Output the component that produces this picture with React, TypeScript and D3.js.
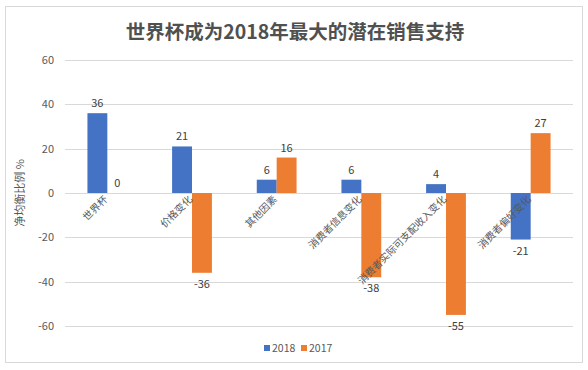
import * as d3 from 'd3';
import { useEffect, useRef } from 'react';

// chart data
const categories = ['世界杯', '价格变化', '其他因素', '消费者信息变化', '消费者实际可支配收入变化', '消费者偏好变化'];
const seriesNames = ['2018', '2017'];
const values2018 = [36, 21, 6, 6, 4, -21];
const values2017 = [0, -36, 16, -38, -55, 27];
const yTicks = [-60, -40, -20, 0, 20, 40, 60];
const colors = ['#4472C4', '#ED7D31'];

const FONT = '"Noto Sans CJK SC", "Noto Sans", sans-serif';

export default function App() {
  const svgRef = useRef<SVGSVGElement | null>(null);

  useEffect(() => {
    if (!svgRef.current) return;
    const width = 588;
    const height = 370;
    const margin = { top: 60, right: 15, bottom: 44, left: 65 };

    const svg = d3.select(svgRef.current);
    svg.selectAll('*').remove();

    svg.append('rect')
      .attr('x', 0).attr('y', 0)
      .attr('width', width).attr('height', height)
      .attr('fill', '#fff');

    // outer border
    svg.append('rect')
      .attr('x', 5.5).attr('y', 6.5)
      .attr('width', 577).attr('height', 356)
      .attr('fill', 'none')
      .attr('stroke', '#d9d9d9');

    const x0 = d3.scaleBand<string>()
      .domain(categories)
      .range([margin.left, 573])
      .paddingInner(0.53)
      .paddingOuter(0.265);

    const x1 = d3.scaleBand<string>()
      .domain(seriesNames)
      .range([0, x0.bandwidth()]);

    const y = d3.scaleLinear()
      .domain([-60, 60])
      .range([326, 60]);

    // title
    svg.append('text')
      .attr('x', 295).attr('y', 39)
      .attr('text-anchor', 'middle')
      .attr('font-family', FONT)
      .attr('font-weight', 'bold')
      .attr('font-size', 19.5)
      .attr('fill', '#505050')
      .text('世界杯成为2018年最大的潜在销售支持');

    // gridlines
    svg.append('g')
      .selectAll('line')
      .data(yTicks)
      .join('line')
      .attr('x1', margin.left).attr('x2', 573)
      .attr('y1', d => Math.round(y(d)) + 0.5)
      .attr('y2', d => Math.round(y(d)) + 0.5)
      .attr('stroke', '#d9d9d9');

    // y axis labels
    const yAxis = d3.axisLeft(y).tickValues(yTicks).tickSize(0).tickPadding(11)
      .tickFormat(d => String(d));
    svg.append('g')
      .attr('transform', `translate(${margin.left},0)`)
      .call(yAxis)
      .call(g => g.select('.domain').remove())
      .call(g => g.selectAll('text')
        .attr('font-family', FONT)
        .attr('font-size', 11)
        .attr('fill', '#595959'));

    // y axis title
    svg.append('text')
      .attr('transform', `translate(24,${y(0)}) rotate(-90)`)
      .attr('text-anchor', 'middle')
      .attr('font-family', FONT)
      .attr('font-size', 11)
      .attr('fill', '#595959')
      .text('净均衡比例  %');

    const rows = categories.map((c, i) => ({ c, vals: [values2018[i], values2017[i]] }));

    // bars
    const groups = svg.append('g')
      .selectAll('g')
      .data(rows)
      .join('g')
      .attr('transform', d => `translate(${x0(d.c)},0)`);

    groups.selectAll('rect')
      .data(d => d.vals.map((v, j) => ({ v, s: seriesNames[j], j })))
      .join('rect')
      .attr('x', d => x1(d.s)!)
      .attr('width', x1.bandwidth())
      .attr('y', d => y(Math.max(0, d.v)))
      .attr('height', d => Math.abs(y(d.v) - y(0)))
      .attr('fill', d => colors[d.j]);

    // data labels
    groups.selectAll('text.val')
      .data(d => d.vals.map((v, j) => ({ v, s: seriesNames[j] })))
      .join('text')
      .attr('class', 'val')
      .attr('x', d => x1(d.s)! + x1.bandwidth() / 2)
      .attr('y', d => d.v >= 0 ? y(d.v) - 6 : y(d.v) + 15)
      .attr('text-anchor', 'middle')
      .attr('font-family', FONT)
      .attr('font-size', 11)
      .attr('fill', '#404040')
      .text(d => d.v);

    // category labels, rotated
    svg.append('g')
      .selectAll('text')
      .data(categories)
      .join('text')
      .attr('transform', d => `translate(${x0(d)! + x0.bandwidth() / 2 + 1},${y(0) + 7}) rotate(-45)`)
      .attr('text-anchor', 'end')
      .attr('font-family', FONT)
      .attr('font-size', 10)
      .attr('fill', '#595959')
      .text(d => d);

    // legend
    const legend = svg.append('g')
      .attr('transform', 'translate(264,349)');
    const items = legend.selectAll('g')
      .data(seriesNames)
      .join('g')
      .attr('transform', (d, i) => `translate(${i * 37},0)`);
    items.append('rect')
      .attr('x', 0).attr('y', -4)
      .attr('width', 6).attr('height', 6)
      .attr('fill', (d, i) => colors[i]);
    items.append('text')
      .attr('x', 8).attr('y', 3)
      .attr('font-family', FONT)
      .attr('font-size', 10.5)
      .attr('fill', '#595959')
      .text(d => d);
  }, []);

  return (
    <div style={{ position: 'absolute', left: 0, top: 0 }}>
      <svg ref={svgRef} width={588} height={370} style={{ display: 'block' }}></svg>
    </div>
  );
}
